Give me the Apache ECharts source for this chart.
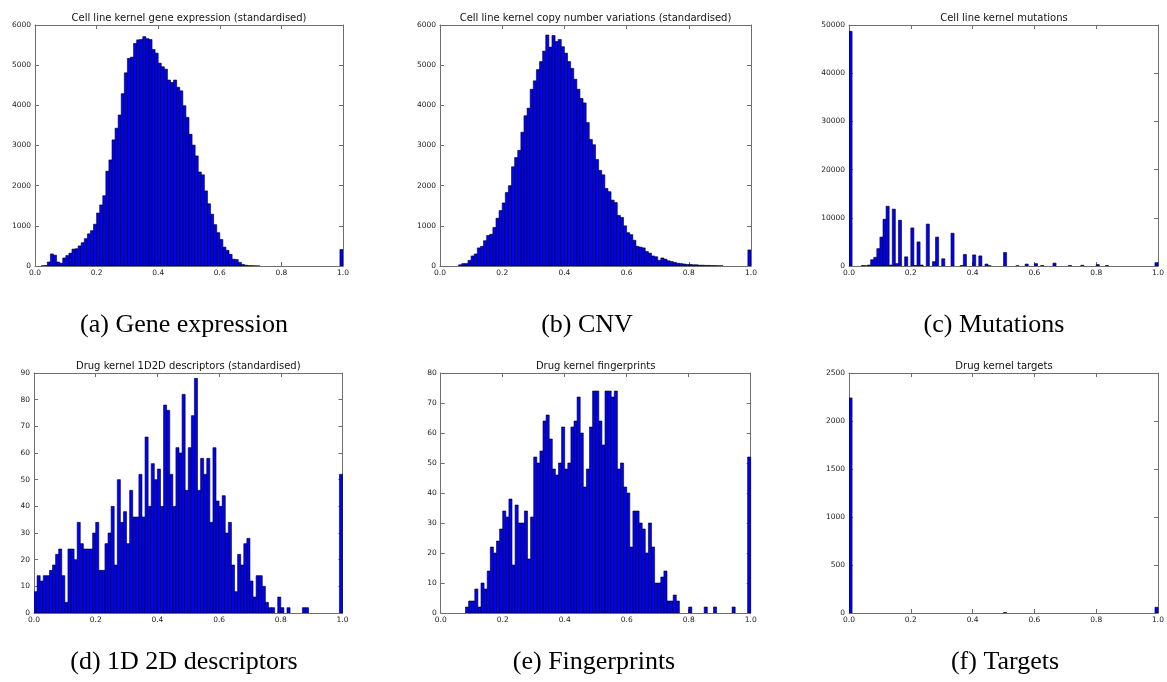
<!DOCTYPE html>
<html><head><meta charset="utf-8">
<script src="https://cdn.jsdelivr.net/npm/echarts@6/dist/echarts.min.js"></script>
<style>html,body{margin:0;padding:0;background:#fff}#c{width:1167px;height:682px}</style>
</head><body><div id="c"></div>
<script>
// ---------- data ----------
const BIN_WIDTH = 0.01; // 100 bins over [0, 1]
const xTickLabels = ['0.0', '0.2', '0.4', '0.6', '0.8', '1.0'];
const panelTitles = [
  'Cell line kernel gene expression (standardised)',
  'Cell line kernel copy number variations (standardised)',
  'Cell line kernel mutations',
  'Drug kernel 1D2D descriptors (standardised)',
  'Drug kernel fingerprints',
  'Drug kernel targets'
];
const captions = ['(a) Gene expression', '(b) CNV', '(c) Mutations', '(d) 1D 2D descriptors', '(e) Fingerprints', '(f) Targets'];
const yMaxes = [6000, 6000, 50000, 90, 80, 2500];
const yIntervals = [1000, 1000, 10000, 10, 10, 500];

const geneExpression = [
  0,0,5,10,100,300,270,100,70,200,
  260,320,420,430,500,580,680,800,880,1040,
  1320,1520,1750,2360,2640,3140,3430,3760,4290,4810,
  5170,5200,5540,5630,5640,5710,5660,5640,5390,5300,
  5050,4960,4900,4630,4570,4630,4450,4360,3990,3700,
  3280,3010,2740,2340,2270,1870,1550,1290,1030,830,
  660,470,390,290,170,160,90,40,20,10,
  8,4,2,0,0,0,0,0,0,0,
  0,0,0,0,0,0,0,0,0,0,
  0,0,0,0,0,0,0,0,0,410
];
const copyNumber = [
  0,0,0,0,0,0,30,60,60,140,
  250,300,450,490,630,760,790,960,1190,1380,
  1570,1830,2000,2470,2700,2880,3330,3740,3930,4400,
  4610,4890,5090,5350,5750,5450,5740,5590,5640,5460,
  5300,5090,4920,4650,4400,4170,4060,3570,3150,3020,
  2650,2380,2270,1930,1850,1640,1580,1260,1210,1000,
  830,780,640,490,470,450,360,320,250,230,
  140,200,170,130,110,90,70,60,50,40,
  40,30,30,20,20,15,15,10,10,5,
  5,0,0,0,0,0,0,0,0,400
];
const mutations = [
  48700,0,0,0,100,50,200,1300,1800,3600,
  6000,9700,12400,200,11800,500,9500,0,1900,0,
  7900,100,5000,200,0,8700,0,900,6000,0,
  1500,0,0,6800,0,0,100,2400,0,0,
  2300,0,2100,0,400,50,0,0,0,0,
  2800,0,0,0,50,0,0,400,0,0,
  500,0,100,0,0,0,600,0,0,0,
  0,100,0,0,0,150,0,0,0,0,
  300,0,0,100,0,0,0,0,0,0,
  0,0,0,0,0,0,0,0,0,700
];
const descriptors = [
  8,14,12,14,14,16,18,22,24,14,
  4,24,24,20,34,26,24,24,24,30,
  34,16,16,26,30,40,18,50,34,38,
  26,46,36,36,52,36,66,40,56,50,
  54,40,78,76,52,40,62,60,82,46,
  62,74,88,46,58,52,58,34,62,42,
  40,44,30,34,18,8,22,18,26,28,
  12,6,14,14,10,4,2,2,0,6,
  2,0,2,0,0,0,0,2,2,0,
  0,0,0,0,0,0,0,0,0,52
];
const fingerprints = [
  0,0,0,0,0,0,0,0,2,4,
  4,8,2,10,8,14,22,20,24,28,
  34,32,38,16,36,30,30,34,18,32,
  52,50,54,64,66,58,48,46,50,62,
  48,50,62,64,72,60,42,48,62,74,
  74,64,56,74,74,72,74,48,50,42,
  40,22,34,34,30,28,20,30,22,10,
  10,12,14,4,4,6,4,0,0,0,
  2,0,0,0,0,2,0,0,2,0,
  0,0,0,0,2,0,0,0,0,52
];
const targets = [
  2240,0,0,0,0,0,0,0,0,0,
  0,0,0,0,0,0,0,0,0,0,
  0,0,0,0,0,0,0,0,0,0,
  0,0,0,0,0,0,0,0,0,0,
  0,0,0,0,0,0,0,0,0,0,
  5,0,0,0,0,0,0,0,0,0,
  0,0,0,0,0,0,0,0,0,0,
  0,0,0,0,0,0,0,0,0,0,
  0,0,0,0,0,0,0,0,0,0,
  0,0,0,0,0,0,0,0,0,60
];
const panelData = [geneExpression, copyNumber, mutations, descriptors, fingerprints, targets];

// ---------- layout ----------
const grids = [
  {left: 35, top: 25, width: 308, height: 241},
  {left: 440, top: 25, width: 311, height: 241},
  {left: 849, top: 25, width: 310, height: 241},
  {left: 34, top: 373, width: 308.5, height: 240},
  {left: 440.7, top: 373, width: 310, height: 240},
  {left: 849, top: 373, width: 310, height: 240}
];
const captionX = [184, 587, 994, 184, 594, 1005];
const captionY = [325, 325, 325, 662, 662, 662];

const FRAME = '#6f6f6f';
const TICKFONT = {fontSize: 7.5, fontFamily: 'DejaVu Sans', color: '#1a1a1a'};

const option = {animation: false, backgroundColor: '#fff', grid: [], xAxis: [], yAxis: [], series: [], graphic: []};

panelData.forEach((counts, i) => {
  const g = grids[i];
  option.grid.push({left: g.left, top: g.top, width: g.width, height: g.height, containLabel: false});
  const xCommon = {gridIndex: i, type: 'value', min: 0, max: 1, interval: 0.2,
    axisLine: {show: true, onZero: false, lineStyle: {color: FRAME, width: 1}},
    axisTick: {show: true, inside: true, length: 4, lineStyle: {color: FRAME}},
    splitLine: {show: false}};
  option.xAxis.push(Object.assign({}, xCommon, {position: 'bottom',
    axisLabel: Object.assign({show: true, margin: 3, formatter: (v) => xTickLabels[Math.round(v / 0.2)]}, TICKFONT)}));
  option.xAxis.push(Object.assign({}, xCommon, {position: 'top', axisLabel: {show: false}}));
  const yCommon = {gridIndex: i, type: 'value', min: 0, max: yMaxes[i], interval: yIntervals[i],
    axisLine: {show: true, onZero: false, lineStyle: {color: FRAME, width: 1}},
    axisTick: {show: true, inside: true, length: 4, lineStyle: {color: FRAME}},
    splitLine: {show: false}};
  option.yAxis.push(Object.assign({}, yCommon, {position: 'left',
    axisLabel: Object.assign({show: true, margin: 4, formatter: (v) => String(v)}, TICKFONT)}));
  option.yAxis.push(Object.assign({}, yCommon, {position: 'right', axisLabel: {show: false}}));

  option.series.push({
    type: 'custom',
    xAxisIndex: 2 * i, yAxisIndex: 2 * i,
    clip: true,
    data: counts.map((v, k) => [k * BIN_WIDTH, v]),
    renderItem: function (params, api) {
      const x0 = api.value(0), y = api.value(1);
      if (!y) return null;
      const p0 = api.coord([x0, 0]);
      const p1 = api.coord([x0 + BIN_WIDTH, y]);
      return {type: 'rect',
        shape: {x: p0[0], y: p1[1], width: p1[0] - p0[0], height: p0[1] - p1[1]},
        style: {fill: '#0000ff', stroke: '#000000', lineWidth: 0.6}};
    }
  });

  option.graphic.push({type: 'text', x: g.left + g.width / 2, y: g.top - 7,
    style: {text: panelTitles[i], fontSize: 10, fontFamily: 'DejaVu Sans', fill: '#111',
      textAlign: 'center', textVerticalAlign: 'middle', align: 'center', verticalAlign: 'middle'}});
  option.graphic.push({type: 'text', x: captionX[i], y: captionY[i],
    style: {text: captions[i], fontSize: 26, fontFamily: 'Liberation Serif', fill: '#000',
      textAlign: 'center', textVerticalAlign: 'middle', align: 'center', verticalAlign: 'middle'}});
});

const chart = echarts.init(document.getElementById('c'), null, {renderer: 'canvas'});
chart.setOption(option);
</script></body></html>
